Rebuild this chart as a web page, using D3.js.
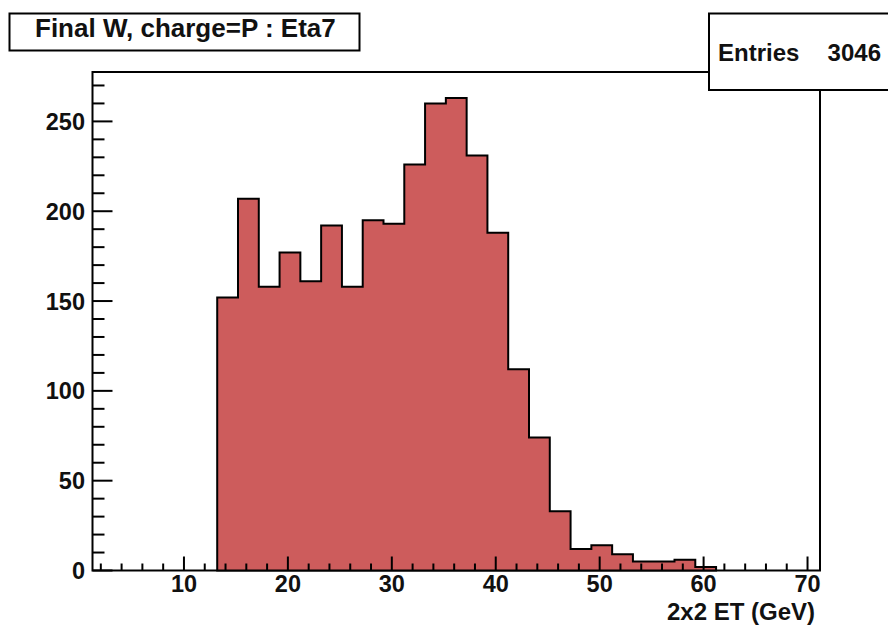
<!DOCTYPE html>
<html>
<head>
<meta charset="utf-8">
<script src="https://cdn.jsdelivr.net/npm/d3@7"></script>
<style>
  html, body { margin: 0; padding: 0; background: #fff; }
  svg { display: block; }
  text { font-family: "Liberation Sans", Arial, Helvetica, sans-serif; font-weight: bold; fill: #111; }
</style>
</head>
<body>
<svg id="chart" width="888" height="629"></svg>
<script>
// Histogram: 2x2 cluster ET for W candidates, charge P, eta bin 7
const binLow = 1.2;          // lower edge of first bin (GeV)
const binWidth = 2;          // GeV per bin
const counts = [
  0, 0, 0, 0, 0, 0,
  152, 207, 158, 177, 161, 192, 158, 195, 193, 226, 260, 263, 231, 188,
  112, 74, 33, 12, 14, 9, 5, 5, 6, 2,
  0, 0, 0, 0, 0
];
const xTickValues = [10, 20, 30, 40, 50, 60, 70];
const yTickValues = [0, 50, 100, 150, 200, 250];
const titleText = "Final W, charge=P : Eta7";
const xTitle = "2x2 ET (GeV)";
const entries = 3046;

const svg = d3.select("#chart");
const frame = { left: 92.5, right: 820, top: 72, bottom: 570.5 };

const x = d3.scaleLinear()
  .domain([binLow, binLow + binWidth * counts.length])
  .range([frame.left, frame.right]);
const y = d3.scaleLinear()
  .domain([0, 277.5])
  .range([frame.bottom, frame.top]);

// frame
svg.append("rect")
  .attr("x", frame.left).attr("y", frame.top)
  .attr("width", frame.right - frame.left)
  .attr("height", frame.bottom - frame.top)
  .attr("fill", "#fff").attr("stroke", "#000").attr("stroke-width", 2);

// step outline of the filled bins
const filled = counts.map((c, i) => ({ i, c })).filter(d => d.c > 0);
const first = filled[0].i, last = filled[filled.length - 1].i;
const pts = [];
const edge = i => binLow + i * binWidth;
pts.push([edge(first), 0]);
for (let i = first; i <= last; i++) {
  pts.push([edge(i), counts[i]]);
  pts.push([edge(i + 1), counts[i]]);
}
pts.push([edge(last + 1), 0]);

const line = d3.line().x(d => x(d[0])).y(d => y(d[1]));
svg.append("path")
  .attr("d", line(pts) + "Z")
  .attr("fill", "#cd5c5c")
  .attr("stroke", "#000")
  .attr("stroke-width", 2)
  .attr("stroke-linejoin", "miter");

// x axis ticks (minor every 2, major every 10)
const xg = svg.append("g");
const xMinor = d3.range(2, 71, 2);
xg.selectAll("line.xt").data(xMinor).join("line")
  .attr("x1", d => x(d)).attr("x2", d => x(d))
  .attr("y1", frame.bottom)
  .attr("y2", d => frame.bottom - (d % 10 === 0 ? 14 : 7))
  .attr("stroke", "#000").attr("stroke-width", 2);
xg.selectAll("text").data(xTickValues).join("text")
  .attr("x", d => x(d)).attr("y", 592)
  .attr("text-anchor", "middle")
  .attr("font-size", 23.5)
  .text(d => d);

// y axis ticks (minor every 10, major every 50)
const yg = svg.append("g");
const yMinor = d3.range(0, 271, 10);
yg.selectAll("line.yt").data(yMinor).join("line")
  .attr("x1", frame.left)
  .attr("x2", d => frame.left + (d % 50 === 0 ? 20 : 12))
  .attr("y1", d => y(d)).attr("y2", d => y(d))
  .attr("stroke", "#000").attr("stroke-width", 2);
yg.selectAll("text").data(yTickValues).join("text")
  .attr("x", 85).attr("y", d => y(d))
  .attr("dy", "0.36em")
  .attr("text-anchor", "end")
  .attr("font-size", 23.5)
  .text(d => d);

// axis title
svg.append("text")
  .attr("x", 815).attr("y", 620)
  .attr("text-anchor", "end")
  .attr("font-size", 24)
  .text(xTitle);

// title box
svg.append("rect")
  .attr("x", 9.5).attr("y", 13.5).attr("width", 350).attr("height", 37)
  .attr("fill", "#fff").attr("stroke", "#000").attr("stroke-width", 2);
svg.append("text")
  .attr("x", 35).attr("y", 37)
  .attr("font-size", 26)
  .text(titleText);

// statistics box
svg.append("rect")
  .attr("x", 709).attr("y", 13.5).attr("width", 200).attr("height", 76.5)
  .attr("fill", "#fff").attr("stroke", "#000").attr("stroke-width", 2);
svg.append("text")
  .attr("x", 718).attr("y", 61)
  .attr("font-size", 24)
  .text("Entries");
svg.append("text")
  .attr("x", 881).attr("y", 61)
  .attr("text-anchor", "end")
  .attr("font-size", 24)
  .text(entries);
</script>
</body>
</html>
